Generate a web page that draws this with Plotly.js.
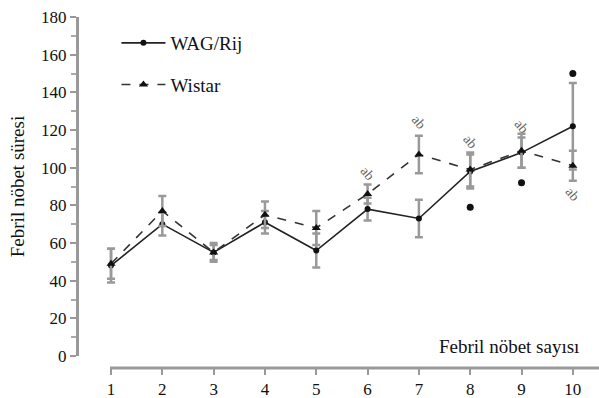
<!DOCTYPE html>
<html><head><meta charset="utf-8">
<script src="https://cdn.plot.ly/plotly-3.0.1.min.js"></script>
<style>html,body{margin:0;padding:0;background:#fff}</style>
</head><body>
<div id="chart" style="width:599px;height:398px"></div>
<script>
const seizureNo = [1,2,3,4,5,6,7,8,9,10];
const wagMean = [48,70,55,71,56,78,73,98,108,122];
const wagErr  = [9,6,4,6,9,6,10,9,8,23];
const wistarMean = [49,77,55,75,68,86,107,99,109,101];
const wistarErr  = [8,8,5,7,9,5,10,9,9,8];
const outlierX = [8,9,10];
const outlierY = [79,92,150];
const sigX = [6,7,8,9,10];
const sigY = [97,124,114,122,86];
const sigLabel = ['ab','ab','ab','ab','ab'];
const yTicks = [0,20,40,60,80,100,120,140,160,180];

const serif = 'Liberation Serif, Times New Roman, serif';
const traces = [
  {x: seizureNo, y: wagMean, name: 'WAG/Rij', mode: 'lines+markers', legendgroup:'a',
   line:{color:'#222', width:1.6},
   marker:{symbol:'circle', size:6, color:'#111'},
   error_y:{type:'data', array: wagErr, visible:true, color:'#999', thickness:2.5, width:4}},
  {x: seizureNo, y: wistarMean, name: 'Wistar', mode: 'lines+markers', legendgroup:'b',
   line:{color:'#333', width:1.6, dash:'dash'},
   marker:{symbol:'triangle-up', size:8, color:'#111'},
   error_y:{type:'data', array: wistarErr, visible:true, color:'#999', thickness:2.5, width:4}},
  {x: outlierX, y: outlierY, mode:'markers', showlegend:false,
   marker:{symbol:'circle', size:7, color:'#111'}}
];
const annotations = sigX.map((x,i)=>({x:x, y:sigY[i], xref:'x', yref:'y', text:sigLabel[i],
  showarrow:false, textangle:50, font:{family:serif, size:14, color:'#666'}}));
annotations.push({xref:'paper', yref:'paper', x:0.966, y:0.025, xanchor:'right', yanchor:'bottom',
  text:'Febril nöbet sayısı', showarrow:false, font:{family:serif, size:19, color:'#111'}});

const layout = {
  width:599, height:398,
  margin:{l:79, r:0, t:17, b:30},
  paper_bgcolor:'#fff', plot_bgcolor:'#fff',
  font:{family:serif, size:17, color:'#111'},
  showlegend:true,
  legend:{x:0.072, y:0.98, xanchor:'left', yanchor:'top', traceorder:'grouped', tracegroupgap:14,
    itemwidth:44,
    font:{family:serif, size:19, color:'#111'}, bgcolor:'rgba(0,0,0,0)'},
  xaxis:{range:[0.376,10.51], anchor:'free', position:0, showline:false, showgrid:false, zeroline:false,
    tickvals:seizureNo, ticks:'outside', ticklen:6, tickwidth:2, tickcolor:'#999',
    tickfont:{family:serif, size:17, color:'#111'}},
  yaxis:{range:[0,180], domain:[0.0342,1], showline:true, linecolor:'#999', linewidth:3,
    showgrid:false, zeroline:false, tickvals:yTicks, ticks:'outside', ticklen:6, tickwidth:2, tickcolor:'#999',
    minor:{dtick:10, ticks:'outside', ticklen:5, tickwidth:2, tickcolor:'#aaa'},
    tickfont:{family:serif, size:17, color:'#111'},
    title:{text:'Febril nöbet süresi', font:{family:serif, size:19, color:'#111'}, standoff:12}},
  shapes:[{type:'line', xref:'x', yref:'paper', x0:0.98, x1:10.51, y0:0, y1:0,
    line:{color:'#999', width:3}}],
  annotations: annotations
};
Plotly.newPlot('chart', traces, layout, {displayModeBar:false, staticPlot:true});
</script>
</body></html>
